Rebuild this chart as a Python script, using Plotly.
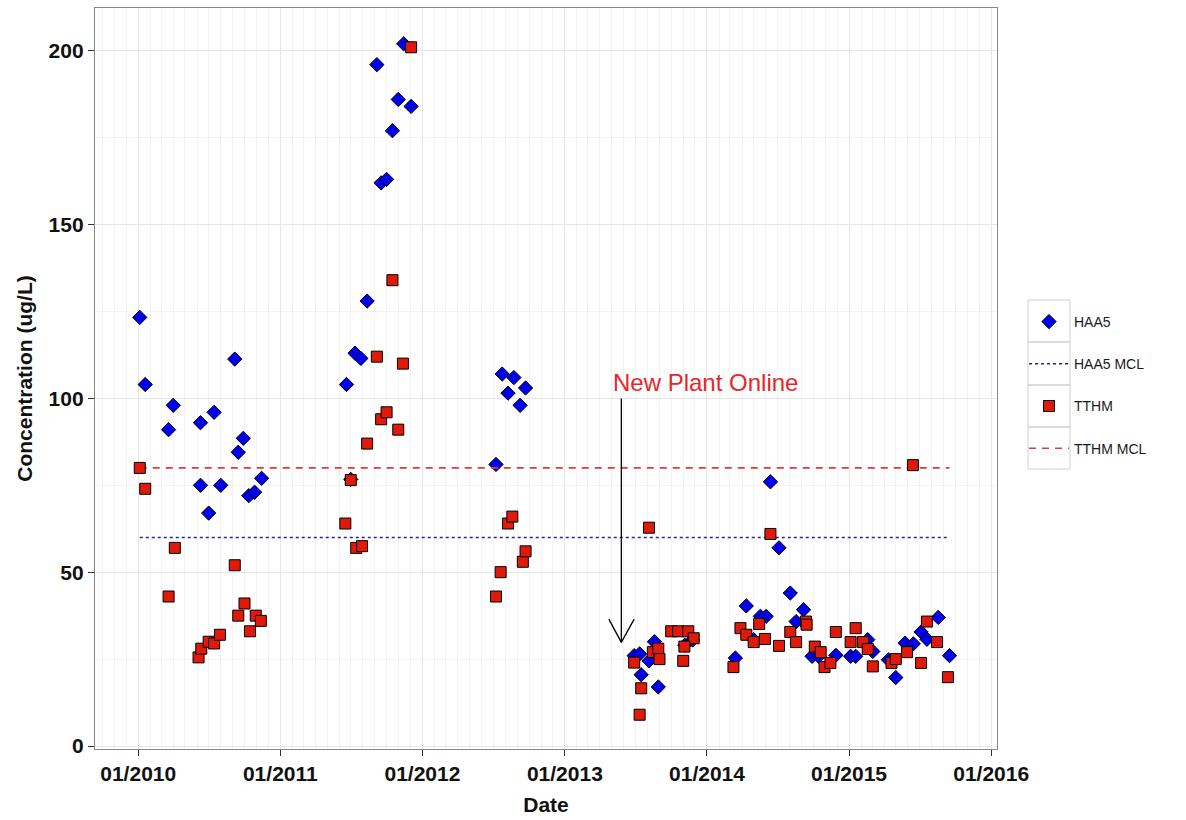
import plotly.graph_objects as go

# HAA5 samples (date, ug/L)
haa5_dates = [
    "2010-01-05", "2010-01-19", "2010-03-20", "2010-04-01", "2010-06-10", "2010-06-10",
    "2010-07-01", "2010-07-15", "2010-08-01", "2010-09-06", "2010-09-15", "2010-09-28",
    "2010-10-12", "2010-10-27", "2010-11-14",
    "2011-06-20", "2011-07-01", "2011-07-12", "2011-07-27", "2011-08-12", "2011-09-06",
    "2011-09-17", "2011-10-01", "2011-10-16", "2011-10-31", "2011-11-14", "2011-12-03",
    "2012-07-08", "2012-07-24", "2012-08-08", "2012-08-23", "2012-09-08", "2012-09-22",
    "2013-06-28", "2013-07-12", "2013-07-16", "2013-08-05", "2013-08-19", "2013-08-29",
    "2013-11-05", "2013-11-25",
    "2014-03-15", "2014-04-12", "2014-05-01", "2014-05-18", "2014-06-02", "2014-06-13",
    "2014-07-05", "2014-08-03", "2014-08-18", "2014-09-06", "2014-09-28", "2014-10-15",
    "2014-11-28", "2015-01-05", "2015-01-18", "2015-02-18", "2015-03-03", "2015-04-12",
    "2015-05-01", "2015-05-25", "2015-06-15", "2015-07-05", "2015-07-20", "2015-08-18",
    "2015-09-16",
]
haa5_values = [
    123.3, 104, 91, 98, 93, 75,
    67, 96, 75, 111.3, 84.5, 88.5,
    72, 73, 77,
    104, 76.7, 113, 111.5, 128, 196,
    162, 163, 177, 186, 202, 184,
    81, 107, 101.5, 106, 98, 103,
    26, 26.5, 20.5, 24.5, 30, 17,
    29, 30.5,
    25.3, 40.3, 30.6, 37.3, 37.3, 76,
    57, 44, 35.8, 39.2, 25.8, 25.8,
    26.1, 25.8, 25.8, 30.6, 27.2, 24.8,
    19.7, 29.6, 29.4, 32.8, 30.7, 37,
    26,
]

# TTHM samples (date, ug/L)
tthm_dates = [
    "2010-01-05", "2010-01-19", "2010-03-20", "2010-04-05", "2010-06-05", "2010-06-12",
    "2010-07-01", "2010-07-15", "2010-07-30", "2010-09-06", "2010-09-15", "2010-10-01",
    "2010-10-15", "2010-10-30", "2010-11-12",
    "2011-06-17", "2011-07-01", "2011-07-15", "2011-07-30", "2011-08-12", "2011-09-06",
    "2011-09-17", "2011-10-01", "2011-10-16", "2011-10-31", "2011-11-12", "2011-12-03",
    "2012-07-08", "2012-07-20", "2012-08-08", "2012-08-19", "2012-09-15", "2012-09-22",
    "2013-06-28", "2013-07-16", "2013-07-12", "2013-08-05", "2013-08-15", "2013-08-29",
    "2013-09-01", "2013-10-01", "2013-10-19", "2013-11-14", "2013-11-28", "2013-11-04",
    "2013-11-01",
    "2014-03-10", "2014-03-28", "2014-04-12", "2014-05-01", "2014-05-15", "2014-05-30",
    "2014-07-05", "2014-06-13", "2014-08-03", "2014-08-18", "2014-09-12", "2014-09-14",
    "2014-10-05", "2014-10-20", "2014-10-30", "2014-11-14", "2014-11-28", "2015-01-05",
    "2015-01-18", "2015-02-06", "2015-02-18", "2015-03-03", "2015-04-20", "2015-05-01",
    "2015-05-30", "2015-06-14", "2015-07-05", "2015-07-20", "2015-08-15", "2015-09-12",
]
tthm_values = [
    80, 74, 43, 57, 25.5, 28,
    30, 29.5, 32, 52, 37.5, 41,
    33, 37.5, 36,
    64, 76.5, 57, 57.5, 87, 112,
    94, 96, 134, 91, 110, 201,
    43, 50, 64, 66, 53, 56,
    24, 16.6, 9, 62.8, 27, 28,
    25, 33, 33, 33, 31, 28.6,
    24.5,
    22.7, 33.9, 32, 29.9, 35.1, 30.8,
    28.8, 61, 32.8, 29.9, 35.8, 34.9,
    28.6, 27, 22.7, 23.9, 32.8, 29.9,
    33.9, 29.9, 27.9, 22.9, 23.9, 25,
    27, 80.8, 23.9, 35.8, 29.9, 19.8,
]

# Maximum contaminant levels
haa5_mcl = 60
tthm_mcl = 80
mcl_span = ["2010-01-05", "2015-09-16"]

y_ticks = [0, 50, 100, 150, 200]
x_ticks = ["2010-01-01", "2011-01-01", "2012-01-01", "2013-01-01",
           "2014-01-01", "2015-01-01", "2016-01-01"]
x_tick_labels = ["01/2010", "01/2011", "01/2012", "01/2013",
                 "01/2014", "01/2015", "01/2016"]

plant_date = "2013-05-26"
label_date = "2013-12-28"

fig = go.Figure()

fig.add_trace(go.Scatter(
    x=haa5_dates, y=haa5_values, mode="markers", name="HAA5",
    legendgroup="a", legendrank=1,
    marker=dict(symbol="diamond", size=11, color="#0000ee",
                line=dict(color="#000000", width=1)),
))
fig.add_trace(go.Scatter(
    x=mcl_span, y=[haa5_mcl, haa5_mcl], mode="lines", name="HAA5 MCL",
    legendgroup="b", legendrank=2,
    line=dict(color="#28287f", width=1.6, dash="dot"),
))
fig.add_trace(go.Scatter(
    x=mcl_span, y=[tthm_mcl, tthm_mcl], mode="lines", name="TTHM MCL",
    legendgroup="d", legendrank=4,
    line=dict(color="#e03a3a", width=1.6, dash="7px,6px"),
))
fig.add_trace(go.Scatter(
    x=tthm_dates, y=tthm_values, mode="markers", name="TTHM",
    legendgroup="c", legendrank=3,
    marker=dict(symbol="square", size=11, color="#e01a0a",
                line=dict(color="#000000", width=1)),
))

# Arrow marking the new treatment plant
arrow_top, arrow_tip, head_dy = 100, 29.8, 6.7
head_left, head_right = "2013-04-24", "2013-06-28"
fig.add_shape(type="line", xref="x", yref="y", x0=plant_date, x1=plant_date,
              y0=arrow_top, y1=arrow_tip, line=dict(color="black", width=1.3))
fig.add_shape(type="line", xref="x", yref="y", x0=head_left, x1=plant_date,
              y0=arrow_tip + head_dy, y1=arrow_tip, line=dict(color="black", width=1.3))
fig.add_shape(type="line", xref="x", yref="y", x0=head_right, x1=plant_date,
              y0=arrow_tip + head_dy, y1=arrow_tip, line=dict(color="black", width=1.3))
fig.add_annotation(x=label_date, y=104.7, xref="x", yref="y", text="New Plant Online",
                   showarrow=False, font=dict(family="Liberation Sans", size=24, color="#e8262a"))

# Legend key boxes
plot_left, plot_right, plot_top, plot_bottom = 95, 997, 8, 749
key_edges = [300, 342, 385, 427, 469]
for top, bottom in zip(key_edges[:-1], key_edges[1:]):
    fig.add_shape(type="rect", xref="paper", yref="paper",
                  x0=(1028 - plot_left) / (plot_right - plot_left),
                  x1=(1070 - plot_left) / (plot_right - plot_left),
                  y0=(plot_bottom - bottom) / (plot_bottom - plot_top),
                  y1=(plot_bottom - top) / (plot_bottom - plot_top),
                  line=dict(color="#d0d0d0", width=1), fillcolor="rgba(0,0,0,0)", layer="below")

axis_title_font = dict(family="Liberation Sans", size=21, color="#111111", weight="bold")
tick_font = dict(family="Liberation Sans", size=21, color="#111111", weight="bold")

fig.update_layout(
    width=1186, height=820,
    margin=dict(l=plot_left, r=1186 - plot_right, t=plot_top, b=820 - plot_bottom,
                autoexpand=False),
    paper_bgcolor="white", plot_bgcolor="white",
    font=dict(family="Liberation Sans", size=14, color="black"),
    showlegend=True,
    legend=dict(
        xref="container", yref="container", x=1024 / 1186, y=(820 - 306) / 820,
        xanchor="left", yanchor="top", traceorder="grouped",
        font=dict(family="Liberation Sans", size=14, color="#1a1a1a"),
        itemwidth=40, tracegroupgap=21, bgcolor="rgba(0,0,0,0)",
    ),
    xaxis=dict(
        type="date", range=["2009-09-12", "2016-01-16"],
        tickvals=x_ticks, ticktext=x_tick_labels, tickfont=tick_font,
        ticks="outside", ticklen=6, tickcolor="#333333", tickwidth=1.3,
        showgrid=True, gridcolor="#e6e6e6", gridwidth=1.3,
        minor=dict(dtick="M1", showgrid=True, gridcolor="#f3f3f3", gridwidth=1),
        showline=True, linecolor="#888888", linewidth=1.3, mirror=True, zeroline=False,
        automargin=False,
        title=dict(text="Date", font=axis_title_font, standoff=12),
    ),
    yaxis=dict(
        range=[-0.86, 212.3], tickvals=y_ticks, tickfont=tick_font,
        ticks="outside", ticklen=6, tickcolor="#333333", tickwidth=1.3,
        showgrid=True, gridcolor="#e6e6e6", gridwidth=1.3,
        minor=dict(tickvals=[25, 75, 125, 175], showgrid=True, gridcolor="#f3f3f3", gridwidth=1),
        showline=True, linecolor="#888888", linewidth=1.3, mirror=True, zeroline=False,
        automargin=False,
        title=dict(text="Concentration (ug/L)", font=axis_title_font, standoff=10),
    ),
)

fig.write_html("out.html")
